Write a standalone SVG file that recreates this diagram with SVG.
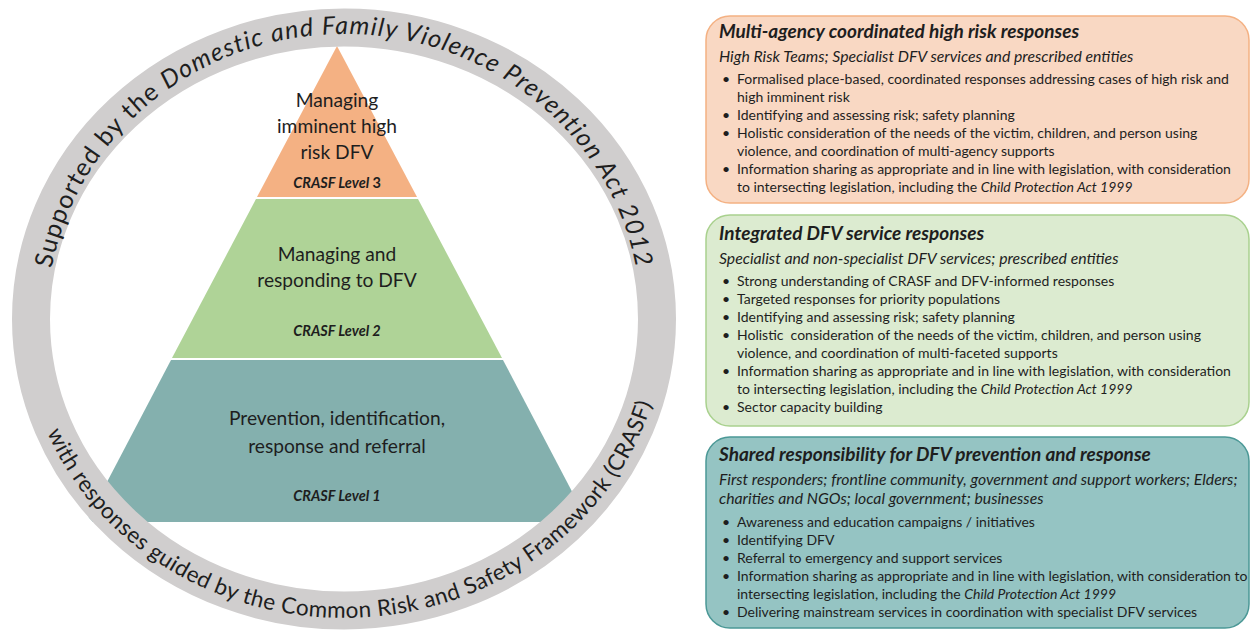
<svg xmlns="http://www.w3.org/2000/svg" width="1255" height="631" viewBox="0 0 1255 631">
  <style>
    .lbl { font-family: Lato, "Liberation Sans", sans-serif; fill: #1e1e1e; }
    .tier { font-size: 19.2px; text-anchor: middle; }
    .lvl { font-size: 14.5px; font-weight: bold; font-style: italic; text-anchor: middle; }
    .ringtxt { fill: #1e1e1e; font-family: Lato, "Liberation Sans", sans-serif; }
    .title { font-size: 19px; font-weight: bold; font-style: italic; }
    .sub { font-size: 15.8px; font-style: italic; }
    .item { font-size: 14px; }
    .it { font-style: italic; }
  </style>
  <defs>
    <clipPath id="ringClip">
      <ellipse cx="344" cy="319" rx="332" ry="310.5"/>
    </clipPath>
    <path id="arcTop" d="M 47,319 A 297 285 0 0 1 641,319"/>
    <path id="arcBottom" d="M 23,319 A 321 299 0 0 0 665,319"/>
  </defs>

  <rect width="1255" height="631" fill="#ffffff"/>

  <!-- pyramid tiers -->
  <g id="pyramid" clip-path="url(#ringClip)">
    <g id="level3">
      <polygon points="337,46 417,197 257,197" fill="#f4b183"/>
      <text class="lbl tier" x="337" y="107">Managing</text>
      <text class="lbl tier" x="337" y="133">imminent high</text>
      <text class="lbl tier" x="337" y="159">risk DFV</text>
      <text class="lbl lvl" x="337" y="188">CRASF Level <tspan font-style="normal">3</tspan></text>
    </g>
    <g id="level2">
      <polygon points="256,199 418,199 502,358 172,358" fill="#afd397"/>
      <text class="lbl tier" x="337" y="261">Managing and</text>
      <text class="lbl tier" x="337" y="287">responding to DFV</text>
      <text class="lbl lvl" x="337" y="336">CRASF Level 2</text>
    </g>
    <g id="level1">
      <polygon points="171,360 503,360 588,522 86,522" fill="#84b0ae"/>
      <text class="lbl tier" x="337" y="425">Prevention, identification,</text>
      <text class="lbl tier" x="337" y="453">response and referral</text>
      <text class="lbl lvl" x="337" y="501">CRASF Level 1</text>
    </g>
  </g>

  <!-- surrounding ring with curved captions -->
  <g id="ring">
    <ellipse cx="344" cy="319" rx="313" ry="291.5" fill="none" stroke="#d0cece" stroke-width="38"/>
    <text class="ringtxt" font-size="25" letter-spacing="1.3"><textPath href="#arcTop" startOffset="50%" text-anchor="middle">Supported by the <tspan font-style="italic">Domestic and Family Violence Prevention Act 2012</tspan></textPath></text>
    <text class="ringtxt" font-size="22.5" letter-spacing="0.4"><textPath href="#arcBottom" startOffset="51.6%" text-anchor="middle">with responses guided by the Common Risk and Safety Framework (CRASF)</textPath></text>
  </g>

  <!-- tier descriptions -->
  <g id="box-high-risk">
    <rect x="706" y="16" width="543" height="187" rx="24" fill="#f9d8c3" stroke="#f4b183" stroke-width="1.5"/>
    <text class="lbl title" x="719" y="38">Multi-agency coordinated high risk responses</text>
    <text class="lbl sub" x="719" y="62">High Risk Teams; Specialist DFV services and prescribed entities</text>
    <g class="lbl item">
      <text x="722" y="84">•</text><text x="737" y="84">Formalised place-based, coordinated responses addressing cases of high risk and</text>
      <text x="737" y="102">high imminent risk</text>
      <text x="722" y="120">•</text><text x="737" y="120">Identifying and assessing risk; safety planning</text>
      <text x="722" y="138">•</text><text x="737" y="138">Holistic consideration of the needs of the victim, children, and person using</text>
      <text x="737" y="156">violence, and coordination of multi-agency supports</text>
      <text x="722" y="174">•</text><text x="737" y="174">Information sharing as appropriate and in line with legislation, with consideration</text>
      <text x="737" y="192">to intersecting legislation, including the <tspan class="it">Child Protection Act 1999</tspan></text>
    </g>
  </g>

  <g id="box-integrated">
    <rect x="706" y="215" width="543" height="211" rx="24" fill="#dcebd0" stroke="#a9d18e" stroke-width="1.5"/>
    <text class="lbl title" x="719" y="240">Integrated DFV service responses</text>
    <text class="lbl sub" x="719" y="264">Specialist and non-specialist DFV services; prescribed entities</text>
    <g class="lbl item">
      <text x="722" y="286">•</text><text x="737" y="286">Strong understanding of CRASF and DFV-informed responses</text>
      <text x="722" y="304">•</text><text x="737" y="304">Targeted responses for priority populations</text>
      <text x="722" y="322">•</text><text x="737" y="322">Identifying and assessing risk; safety planning</text>
      <text x="722" y="340">•</text><text x="737" y="340" xml:space="preserve">Holistic  consideration of the needs of the victim, children, and person using</text>
      <text x="737" y="358">violence, and coordination of multi-faceted supports</text>
      <text x="722" y="376">•</text><text x="737" y="376">Information sharing as appropriate and in line with legislation, with consideration</text>
      <text x="737" y="394">to intersecting legislation, including the <tspan class="it">Child Protection Act 1999</tspan></text>
      <text x="722" y="412">•</text><text x="737" y="412">Sector capacity building</text>
    </g>
  </g>

  <g id="box-shared">
    <rect x="706" y="437" width="543" height="191" rx="24" fill="#95c4c3" stroke="#4b9896" stroke-width="1.5"/>
    <text class="lbl title" x="719" y="461">Shared responsibility for DFV prevention and response</text>
    <text class="lbl sub" x="719" y="485">First responders; frontline community, government and support workers; Elders;</text>
    <text class="lbl sub" x="719" y="504">charities and NGOs; local government; businesses</text>
    <g class="lbl item">
      <text x="722" y="527">•</text><text x="737" y="527">Awareness and education campaigns / initiatives</text>
      <text x="722" y="545">•</text><text x="737" y="545">Identifying DFV</text>
      <text x="722" y="563">•</text><text x="737" y="563">Referral to emergency and support services</text>
      <text x="722" y="581">•</text><text x="737" y="581">Information sharing as appropriate and in line with legislation, with consideration to</text>
      <text x="737" y="599">intersecting legislation, including the <tspan class="it">Child Protection Act 1999</tspan></text>
      <text x="722" y="617">•</text><text x="737" y="617">Delivering mainstream services in coordination with specialist DFV services</text>
    </g>
  </g>
</svg>
